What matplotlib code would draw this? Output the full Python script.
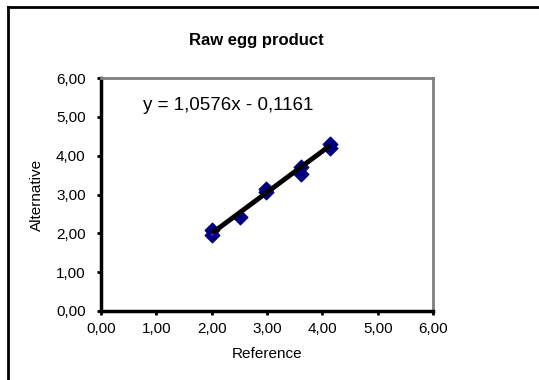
import matplotlib
matplotlib.use('Agg')
import matplotlib.pyplot as plt
import matplotlib.transforms as mtransforms
import numpy as np

plt.rcParams['font.family'] = ['Liberation Sans', 'DejaVu Sans']

# measured pairs: reference method vs alternative method
reference = [2.01, 2.01, 2.51, 2.98, 2.98, 3.62, 3.62, 4.14, 4.14]
alternative = [2.08, 1.96, 2.41, 3.15, 3.07, 3.70, 3.53, 4.29, 4.19]

# linear trend shown on the chart
slope = 1.0576
intercept = -0.1161

ticks = [0, 1, 2, 3, 4, 5, 6]
tick_labels = ['0,00', '1,00', '2,00', '3,00', '4,00', '5,00', '6,00']

fig = plt.figure(figsize=(5.39, 3.80), dpi=100)
ax = fig.add_axes([101 / 539, 1 - 311 / 380, 332 / 539, 233 / 380])

ax.scatter(reference, alternative, marker='D', s=55, color='#000080',
           edgecolors='#000080', zorder=3)

xs = np.array([min(reference), max(reference)])
ys = slope * xs + intercept
# thin magenta line peeking out under the black trendline
shifted = mtransforms.offset_copy(ax.transData, fig=fig, y=-1.8, units='dots')
ax.plot(xs, ys, color='#ff00ff', linewidth=1, transform=shifted, zorder=4)
ax.plot(xs, ys, color='black', linewidth=3.5, solid_capstyle='butt', zorder=5)

ax.set_xlim(0, 6)
ax.set_ylim(0, 6)
ax.set_xticks(ticks)
ax.set_xticklabels(tick_labels)
ax.set_yticks(ticks)
ax.set_yticklabels(tick_labels)
ax.tick_params(direction='out', length=3, width=2, labelsize=11, color='black')
ax.tick_params(axis='y', pad=8)
ax.tick_params(axis='x', pad=5)

for side in ['left', 'bottom']:
    ax.spines[side].set_linewidth(2.5)
    ax.spines[side].set_color('black')
for side in ['right', 'top']:
    ax.spines[side].set_linewidth(2)
    ax.spines[side].set_color('#808080')

ax.set_xlabel('Reference', fontsize=11, labelpad=8)
ax.set_ylabel('Alternative', fontsize=11, labelpad=9)

fig.text(256 / 539, 1 - 40 / 380, 'Raw egg product', fontsize=12, fontweight='bold',
         ha='center', va='center')
ax.text(143, 105, 'y = 1,0576x - 0,1161', fontsize=13.5, ha='left', va='center',
        transform=mtransforms.Affine2D().scale(1, -1).translate(0, 380))

# chart area border (left and top edges)
fig.add_artist(plt.Line2D([8 / 539, 8 / 539], [0, 1 - 7 / 380], color='black', linewidth=2))
fig.add_artist(plt.Line2D([8 / 539, 1], [1 - 7 / 380, 1 - 7 / 380], color='black', linewidth=2))

fig.savefig('out.png', dpi=100)
